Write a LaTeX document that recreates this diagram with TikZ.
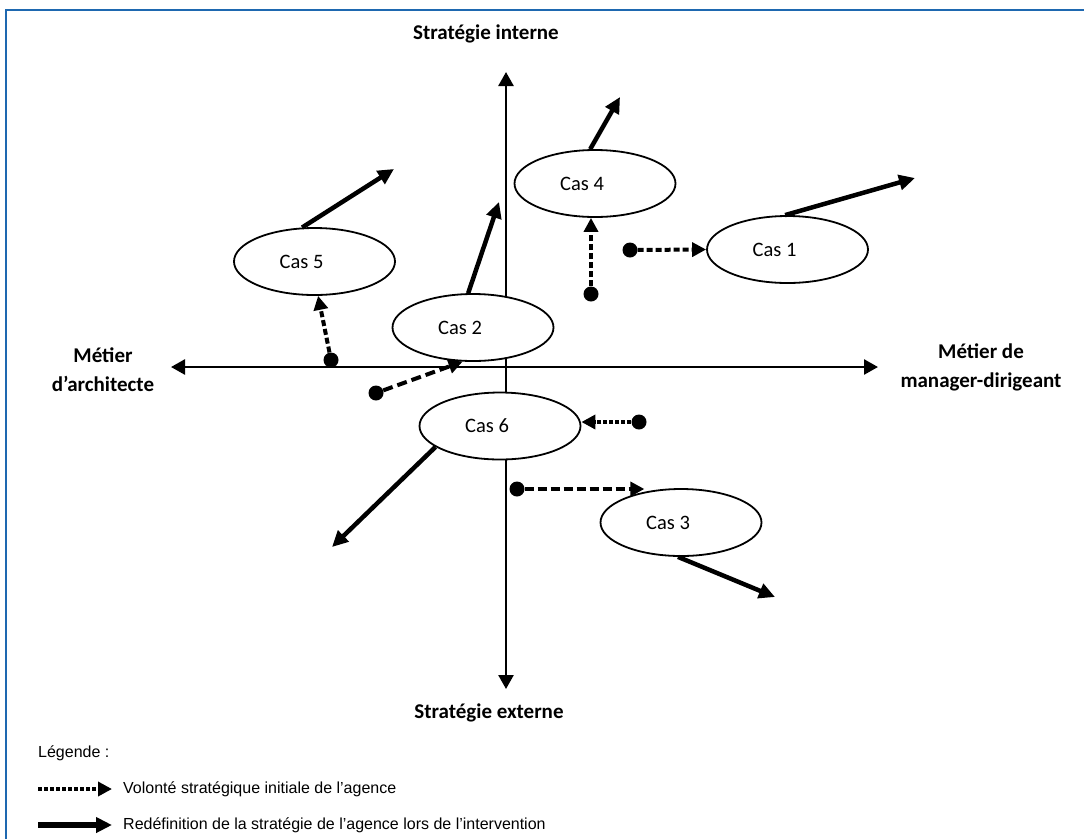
\documentclass[tikz,border=0pt]{standalone}
\usepackage{fontspec}
\setmainfont{Carlito}
\newfontfamily\legendfont{Liberation Sans}
\usetikzlibrary{arrows.meta,shapes.geometric,positioning}
\definecolor{frameblue}{RGB}{30,104,176}

\begin{document}
\begin{tikzpicture}[x = 1pt, y = -1pt,
  cas/.style = {ellipse, draw, line width = 1.8pt, fill = white, inner sep = 0pt,
    minimum width = 161pt, minimum height = 67pt,
    label = {[font = \fontsize{20.5}{24}\selectfont, xshift = -13pt]center:#1}},
  axis/.style = {line width = 2.6pt, {Triangle[length = 14pt, width = 15pt]}-{Triangle[length = 14pt, width = 15pt]}},
  redef/.style = {line width = 4.5pt, -{Triangle[length = 16pt, width = 15pt]}},
  initial/.style = {line width = 4pt, dash pattern = on 6pt off 3pt, -{Triangle[length = 14pt, width = 14pt]}},
  dot/.style = {circle, fill, inner sep = 0pt, minimum size = 15pt},
  axlabel/.style = {font = \bfseries\fontsize{21}{29}\selectfont, align = center},
  legend/.style = {font = \legendfont\fontsize{16}{19}\selectfont, inner sep = 0pt, anchor = west}]
  \useasboundingbox (0, 0) rectangle (1084, 839);
  \draw[frameblue, line width = 2pt] (6, 839) -- (6, 10) -- (1084, 10);

  % axes
  \node[axlabel] (si) at (486, 34) {Stratégie interne};
  \node[axlabel] (se) at (489, 713) {Stratégie externe};
  \node[axlabel] (ma) at (103, 370) {Métier\\d’architecte};
  \node[axlabel] (md) at (981, 367) {Métier de\\manager-dirigeant};
  \coordinate (top) at (506, 72);
  \coordinate (bot) at (506, 689);
  \coordinate (lft) at (171, 367);
  \coordinate (rgt) at (878, 367);
  \draw[axis] (bot) -- (top);
  \draw[axis] (lft) -- (rgt);

  % cases
  \node[cas = Cas 5] (cas5) at (314.5, 261.5) {};
  \node[cas = Cas 2] (cas2) at (473, 327.5) {};
  \node[cas = Cas 4] (cas4) at (595, 183.5) {};
  \node[cas = Cas 1] (cas1) at (787.5, 249.5) {};
  \node[cas = Cas 6] (cas6) at (500, 426) {};
  \node[cas = Cas 3] (cas3) at (681, 522.5) {};

  % initial positions
  \node[dot] (d5) at (331, 360) {};
  \node[dot] (d2) at (376, 393) {};
  \node[dot] (d4) at (591, 294) {};
  \node[dot] (d1) at (630, 250) {};
  \node[dot] (d6) at (639, 422) {};
  \node[dot] (d3) at (517, 489) {};

  \draw[initial] (d5) -- (cas5.276);
  \draw[initial, dash pattern = on 10pt off 5pt] (d2) -- (cas2.253);
  \draw[initial] (d4) -- (d4 |- cas4.south);
  \draw[initial] (d1) -- (cas1.west);
  \draw[initial, dash pattern = on 4pt off 2pt] (d6) -- (d6 -| cas6.east);
  \draw[initial, dash pattern = on 9pt off 4pt] (d3) -- (cas3.140 |- d3);

  % redefinitions
  \coordinate (e5) at (394, 169);
  \coordinate (e2) at (499, 202);
  \coordinate (e4) at (620, 97);
  \coordinate (e1) at (915, 178);
  \coordinate (e6) at (332, 547);
  \coordinate (e3) at (775, 597);
  \draw[redef] (cas5.110) -- (e5);
  \draw[redef] (cas2.98) -- (e2);
  \draw[redef] (cas4.98) -- (e4);
  \draw[redef] (cas1.94) -- (e1);
  \draw[redef] (cas6.198) -- (e6);
  \draw[redef] (cas3.265) -- (e3);

  % legend
  \node[legend] (leg) at (38, 753) {Légende :};
  \node[legend, inner xsep = 11pt] (vol) at (112, 789) {Volonté stratégique initiale de l’agence};
  \node[legend, inner xsep = 11pt] (red) at (112, 825) {Redéfinition de la stratégie de l’agence lors de l’intervention};
  \coordinate (vol0) at (38, 789);
  \coordinate (red0) at (38, 825);
  \draw[initial, dash pattern = on 4pt off 2pt] (vol0) -- (vol);
  \draw[redef, line width = 5.5pt] (red0) -- (red);
\end{tikzpicture}
\end{document}
